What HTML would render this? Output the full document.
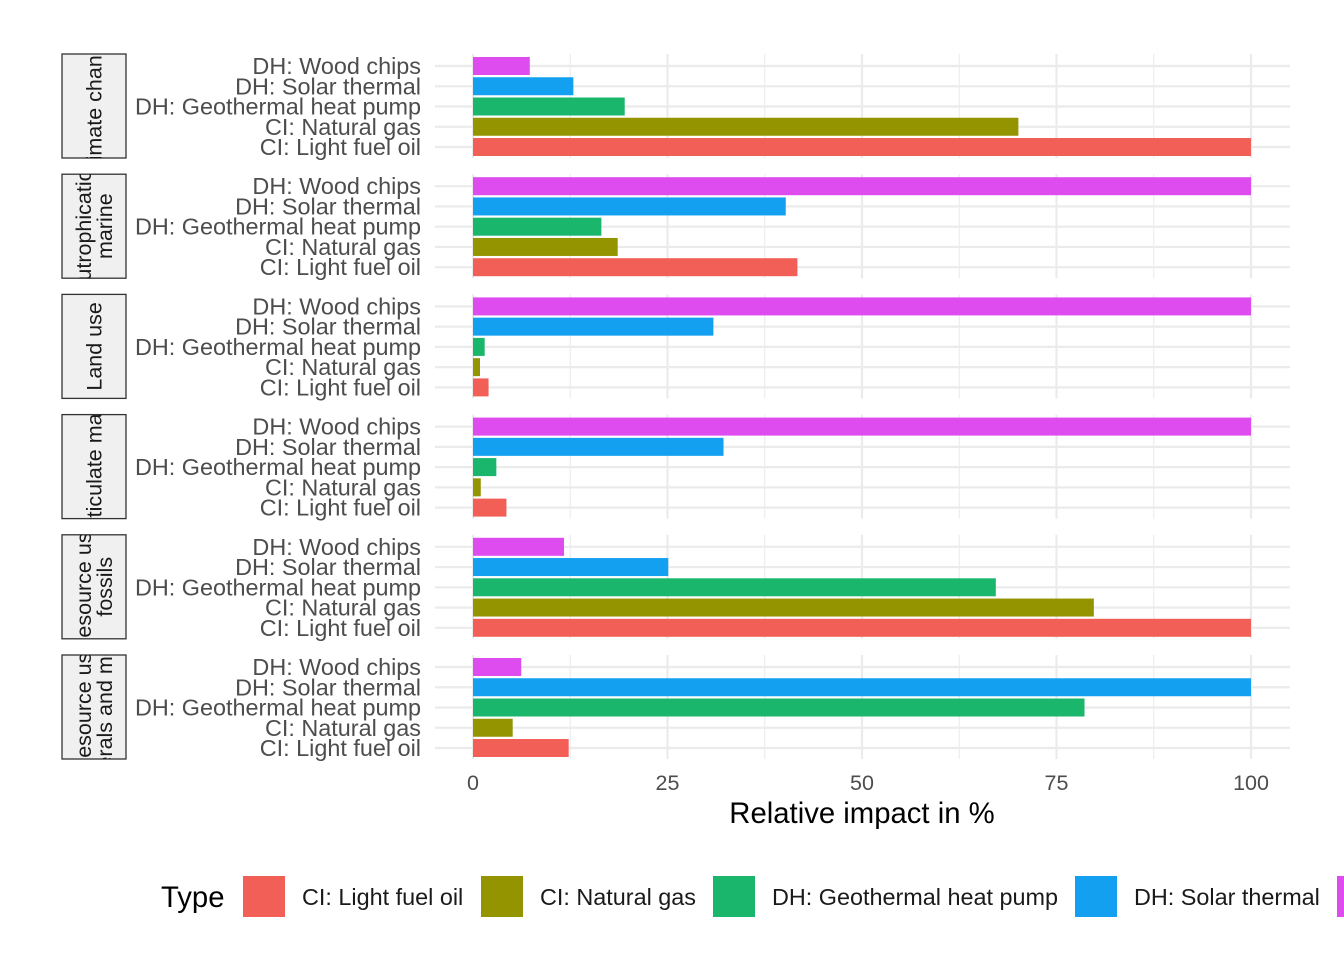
<!DOCTYPE html>
<html><head><meta charset="utf-8"><style>
html,body{margin:0;padding:0;background:#fff;}
svg{display:block;font-family:"Liberation Sans",Arial,sans-serif;}
</style></head><body>
<svg id="c" width="1344" height="960" viewBox="0 0 1344 960"></svg>
<script>
const panels=["Climate change","Eutrophication marine","Land use","Particulate matter","Resource use fossils","Resource use minerals and metals"];
const stripLines=[["Climate change"],["Eutrophication,","marine"],["Land use"],["Particulate matter"],["Resource use,","fossils"],["Resource use,","minerals and metals"]];
const categories=["CI: Light fuel oil","CI: Natural gas","DH: Geothermal heat pump","DH: Solar thermal","DH: Wood chips"];
const barColors=["#f25f57","#949400","#1ab66c","#14a0f0","#de4bef"];
const lightFuelOil=[100,41.7,2.0,4.3,100,12.3];
const naturalGas=[70.1,18.6,0.9,1.0,79.8,5.1];
const geothermal=[19.5,16.5,1.5,3.0,67.2,78.6];
const solarThermal=[12.9,40.2,30.9,32.2,25.1,100];
const woodChips=[7.3,100,100,100,11.7,6.2];
const series=[lightFuelOil,naturalGas,geothermal,solarThermal,woodChips];
const xTicks=[0,25,50,75,100];
const NS="http://www.w3.org/2000/svg";
const svg=document.getElementById('c');
function el(t,a,p){const e=document.createElementNS(NS,t);for(const k in a)e.setAttribute(k,a[k]);(p||svg).appendChild(e);return e;}
const x=v=>473+v*7.78;
const panelTop=i=>54+i*120.2;
const rowY=(i,j)=>panelTop(i)+93-j*20.25;
const defs=el('defs',{});
for(let i=0;i<panels.length;i++){
  const top=panelTop(i);
  const g=el('g',{});
  
  
  for(let v=0;v<=100;v+=12.5){
    const l=el('line',{x1:x(v),x2:x(v),y1:top,y2:top+104,stroke:'#ebebeb','stroke-width':(v%25===0)?2.2:1.1},g);
    
    
  }
  for(let j=0;j<5;j++){
    const l=el('line',{x1:435,x2:1290,y1:rowY(i,j),y2:rowY(i,j),stroke:'#ebebeb','stroke-width':2.2},g);
    
    
    const t=el('text',{x:421,y:rowY(i,j)+8,'text-anchor':'end','font-size':23.4,fill:'#4d4d4d'},g);
    t.textContent=categories[j];
    
    
  }
  for(let j=0;j<5;j++){
    const v=series[j][i];
    const r=el('rect',{x:x(0),y:rowY(i,j)-9,width:x(v)-x(0),height:18,fill:barColors[j]},g);
    
    
  }
  const cp=el('clipPath',{id:'cp'+i},defs);
  el('rect',{x:62,y:top,width:64,height:104},cp);
  const s=el('rect',{x:62,y:top,width:64,height:104,fill:'#f0f0f0',stroke:'#333','stroke-width':1.3},g);
  
  
  const lines=stripLines[i].map(s=>s.replace(',',''));
  const sg=el('g',{'clip-path':'url(#cp'+i+')'},g);
  const cx=94, cy=top+52;
  lines.forEach((ln,k)=>{
    const off=(k-(lines.length-1)/2)*21;
    const t=el('text',{x:0,y:0,'text-anchor':'middle','font-size':21.5,fill:'#1a1a1a',transform:`translate(${cx+off+7.5},${cy}) rotate(-90)`},sg);
    t.textContent=ln;
    
    
  });
}
xTicks.forEach(v=>{
  const t=el('text',{x:x(v),y:790,'text-anchor':'middle','font-size':21.5,fill:'#4d4d4d'});
  t.textContent=v;
  
  
});
const xt=el('text',{x:862,y:823,'text-anchor':'middle','font-size':29.3,fill:'#000'});
xt.textContent='Relative impact in %';


const lt=el('text',{x:161,y:907,'font-size':29.3,fill:'#000'});
lt.textContent='Type';


const lx=[243,481,713,1075,1337];
categories.forEach((c,j)=>{
  const r=el('rect',{x:lx[j],y:876,width:42,height:41,fill:barColors[j]});
  
  
  const t=el('text',{x:lx[j]+59,y:905,'font-size':23.4,fill:'#1a1a1a'});
  t.textContent=c;
  
  
});
</script>
</body></html>
